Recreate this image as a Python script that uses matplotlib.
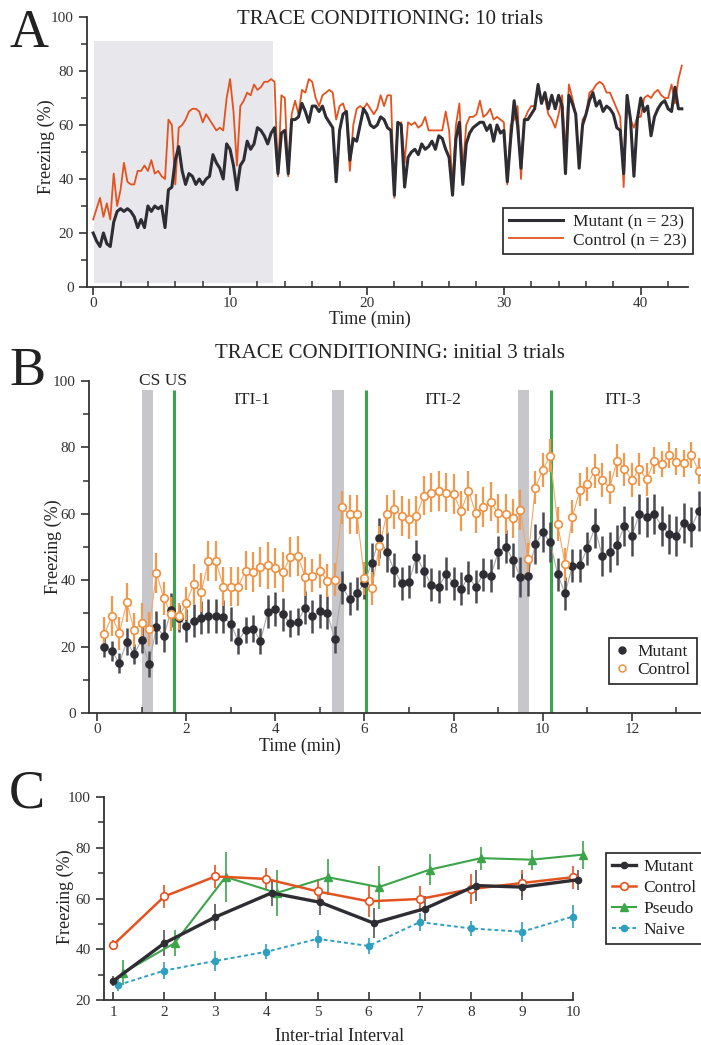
import matplotlib
matplotlib.use('Agg')
import matplotlib.pyplot as plt
import numpy as np
from matplotlib.ticker import MultipleLocator
from matplotlib.lines import Line2D

plt.rcParams['font.family'] = ['Liberation Serif', 'DejaVu Serif']
plt.rcParams['text.color'] = '#222222'
plt.rcParams['axes.labelcolor'] = '#222222'
plt.rcParams['xtick.color'] = '#333333'
plt.rcParams['ytick.color'] = '#333333'

# ---- panel A: 10 trials, sampled every 0.25 min ----
a_step = 0.25
a_mutant = [20, 17, 15, 20, 16, 15, 24, 28, 29, 28, 29, 28, 26, 22, 25, 22,
            30, 28, 30, 29, 30, 22, 36, 37, 47, 52, 43, 38, 42, 41, 38, 40,
            38, 40, 41, 49, 46, 44, 40, 53, 51, 45, 36, 45, 47, 54, 51, 53,
            59, 58, 56, 53, 57, 59, 42, 57, 58, 42, 62, 62, 63, 68, 65, 61,
            67, 67, 65, 67, 63, 61, 59, 39, 58, 64, 65, 47, 55, 54, 60, 66,
            64, 60, 59, 60, 63, 62, 59, 58, 34, 61, 60, 37, 48, 50, 51, 49,
            53, 51, 52, 54, 51, 56, 55, 51, 48, 34, 55, 61, 38, 53, 57, 59,
            60, 61, 61, 58, 60, 54, 60, 57, 58, 39, 55, 69, 60, 44, 62, 62,
            64, 66, 75, 68, 72, 66, 71, 66, 71, 67, 42, 71, 68, 64, 44, 60,
            64, 69, 72, 67, 69, 65, 67, 66, 64, 59, 58, 42, 71, 62, 41, 62,
            70, 65, 67, 56, 63, 66, 68, 69, 66, 65, 74, 66, 66]
a_control = [25, 29, 33, 26, 31, 25, 42, 30, 36, 46, 39, 38, 38, 43, 43, 45,
             43, 47, 42, 43, 41, 40, 62, 60, 38, 59, 60, 62, 65, 66, 66, 65,
             61, 64, 62, 60, 58, 59, 58, 70, 77, 65, 45, 67, 69, 72, 71, 75,
             73, 74, 76, 76, 77, 76, 41, 71, 70, 41, 64, 69, 64, 73, 72, 77,
             76, 70, 67, 71, 72, 73, 72, 62, 67, 68, 64, 43, 60, 66, 67, 66,
             68, 66, 64, 66, 71, 67, 71, 71, 33, 60, 61, 46, 61, 60, 61, 59,
             60, 63, 58, 58, 58, 58, 58, 65, 58, 38, 60, 68, 43, 60, 63, 63,
             64, 69, 63, 64, 66, 62, 63, 62, 61, 38, 60, 62, 67, 40, 62, 65,
             67, 67, 74, 69, 70, 64, 62, 59, 64, 71, 50, 75, 70, 64, 45, 62,
             64, 72, 73, 75, 76, 75, 72, 72, 69, 66, 63, 37, 70, 62, 59, 63,
             63, 70, 71, 70, 72, 73, 71, 70, 70, 75, 68, 77, 82]
a_time = np.arange(len(a_mutant)) * a_step
a_cs_period = (0.05, 13.1)

# ---- panel B: initial 3 trials, 10 s bins ----
b_mutant = [20.0, 18.7, 15.0, 21.5, 17.8, 22.0, 14.8, 25.8, 23.3, 31.0,
            28.5, 26.3, 27.8, 28.7, 29.2, 29.2, 29.0, 26.8, 21.7, 25.0,
            25.4, 21.7, 30.5, 31.3, 29.7, 27.0, 27.5, 31.7, 29.1, 30.7,
            30.2, 22.2, 37.9, 34.4, 36.0, 39.3, 45.3, 52.6, 48.5, 43.1,
            39.1, 39.6, 47.1, 42.9, 38.6, 38.1, 41.9, 39.1, 37.5, 40.8,
            38.1, 41.8, 41.4, 48.4, 50.1, 46.1, 40.9, 41.3, 50.8, 54.4,
            51.5, 41.8, 36.0, 44.4, 44.5, 49.6, 55.8, 47.3, 48.4, 50.7,
            56.4, 53.4, 59.9, 59.1, 59.9, 56.3, 53.9, 53.3, 57.3, 55.9, 60.9]
b_mutant_err = [3, 3, 3, 4, 3, 4, 4, 5, 5, 5, 4, 5, 5, 5, 5, 5, 5, 5, 4, 4,
                4, 4, 5, 5, 5, 4, 4, 5, 5, 5, 5, 4, 5, 5, 5, 5, 6, 6, 6, 5,
                5, 5, 5, 5, 5, 5, 5, 5, 5, 5, 5, 5, 5, 5, 5, 5, 6, 6, 6, 6,
                6, 5, 5, 5, 5, 5, 6, 6, 6, 6, 6, 6, 6, 6, 6, 6, 6, 6, 6, 6, 6]
b_control = [23.8, 29.2, 24.0, 33.3, 25.0, 27.0, 25.3, 42.1, 34.5, 29.8,
             29.1, 33.0, 38.8, 36.3, 45.8, 45.8, 38.1, 38.1, 38.1, 42.9,
             42.4, 44.1, 44.5, 43.8, 42.4, 46.9, 47.4, 41.1, 41.4, 42.8,
             39.8, 40.1, 61.9, 59.8, 59.8, 40.6, 37.6, 50.3, 59.8, 61.3,
             59.4, 58.4, 59.4, 65.5, 66.4, 66.9, 66.4, 65.9, 60.8, 66.9,
             60.1, 62.1, 63.7, 60.1, 59.9, 58.6, 61.1, 46.3, 67.9, 73.2,
             77.5, 56.9, 44.8, 59.1, 67.2, 69.0, 72.9, 70.2, 67.9, 76.0,
             73.4, 70.2, 73.4, 70.4, 76.0, 75.0, 77.7, 75.7, 75.2, 77.7, 72.9]
b_control_err = [5, 6, 5, 6, 5, 6, 5, 6, 5, 5, 4, 5, 6, 6, 6, 6, 6, 6, 6, 6,
                 6, 6, 7, 6, 6, 6, 6, 6, 5, 5, 5, 5, 5, 6, 6, 5, 5, 6, 6, 6,
                 6, 6, 6, 6, 6, 6, 6, 6, 6, 6, 6, 6, 6, 6, 6, 6, 6, 5, 5, 5,
                 5, 5, 5, 5, 5, 5, 5, 5, 5, 5, 5, 5, 5, 5, 4, 4, 4, 4, 4, 4, 4]
b_time = np.arange(1, len(b_mutant) + 1) / 6.0
b_cs = [(1.0, 1.25), (5.28, 5.54), (9.44, 9.69)]
b_us = [1.73, 6.03, 10.18]
b_iti = ['ITI-1', 'ITI-2', 'ITI-3']
b_iti_x = [3.47, 7.76, 11.8]

# ---- panel C: inter-trial intervals ----
c_mutant_x = [1.0, 2.0, 3.0, 4.1, 5.05, 6.1, 7.1, 8.1, 9.0, 10.1]
c_mutant = [27.5, 42.4, 52.7, 62.2, 58.5, 50.3, 56.0, 65.1, 64.5, 67.4]
c_mutant_err = [2, 5, 5, 5, 5, 6, 5, 6, 5, 4]
c_control_x = [1, 2, 3, 4, 5, 6, 7, 8, 9, 10]
c_control = [41.7, 60.8, 68.7, 67.7, 62.8, 58.9, 59.8, 63.7, 66.1, 68.4]
c_control_err = [2, 4.5, 4.5, 4.5, 5, 6, 5, 6, 5, 4.5]
c_pseudo_x = [1.2, 2.2, 3.2, 4.2, 5.2, 6.2, 7.2, 8.2, 9.2, 10.2]
c_pseudo = [30.8, 42.4, 68.5, 62.2, 68.4, 64.5, 71.4, 75.9, 75.3, 77.3]
c_pseudo_err = [5, 5, 10, 9, 7, 8.5, 6, 4.5, 4, 5.5]
c_naive_x = [1.1, 2, 3, 4, 5, 6, 7, 8, 9, 10]
c_naive = [25.9, 31.6, 35.4, 39.0, 44.1, 41.3, 50.7, 48.2, 46.9, 52.9]
c_naive_err = [2.5, 3.5, 4, 3, 3.5, 3, 3.5, 3, 4, 4.5]

BLACK = '#2d2d33'
ORANGE_RED = '#e4531f'
ORANGE = '#f0903e'
GREEN = '#3ca54a'
TEAL = '#2f9fc0'

W, H = 701, 1045
fig = plt.figure(figsize=(W / 100, H / 100), dpi=100)


def box(left, top, right, bottom):
    return [left / W, 1 - bottom / H, (right - left) / W, (bottom - top) / H]


def style(ax):
    for s in ['top', 'right']:
        ax.spines[s].set_visible(False)
    for s in ['left', 'bottom']:
        ax.spines[s].set_linewidth(1.3)
        ax.spines[s].set_color('#333333')
    ax.tick_params(axis='both', which='major', labelsize=11, length=6, width=1.2)
    ax.tick_params(axis='x', which='major', pad=1.5)
    ax.tick_params(axis='both', which='minor', length=4, width=1.1)
    ax.tick_params(axis='x', which='minor', direction='in')


def boxed_legend(ax, handles, labels, left, top, **kw):
    leg = ax.legend(handles, labels, loc='upper left',
                    bbox_to_anchor=(left / W, 1 - top / H),
                    bbox_transform=fig.transFigure, fancybox=False,
                    framealpha=1, edgecolor='#222222', borderaxespad=0,
                    borderpad=0.35, **kw)
    leg.get_frame().set_linewidth(1.2)
    return leg


# ================= A =================
axA = fig.add_axes(box(87, 17, 688, 287))
axA.axvspan(a_cs_period[0], a_cs_period[1], ymin=0.015, ymax=0.91,
            color='#e7e7ec', lw=0)
axA.plot(a_time, a_control, color=ORANGE_RED, lw=1.3)
axA.plot(a_time, a_mutant, color=BLACK, lw=2.2)
axA.set_xlim(-0.45, 43.45)
axA.set_ylim(0, 100)
axA.xaxis.set_major_locator(MultipleLocator(10))
axA.xaxis.set_minor_locator(MultipleLocator(2))
axA.yaxis.set_major_locator(MultipleLocator(20))
axA.yaxis.set_minor_locator(MultipleLocator(10))
style(axA)
axA.set_xlabel('Time (min)', fontsize=13)
axA.set_ylabel('Freezing (%)', fontsize=13)
axA.xaxis.set_label_coords(0.47, -0.088)
axA.yaxis.set_label_coords(-0.053, 0.52)
hA = [Line2D([], [], color=BLACK, lw=2.2), Line2D([], [], color=ORANGE_RED, lw=1.3)]
boxed_legend(axA, hA, ['Mutant (n = 23)', 'Control (n = 23)'], 503, 208,
             fontsize=12.5, handlelength=3.1, labelspacing=0.1, handletextpad=0.6)

# ================= B =================
axB = fig.add_axes(box(89, 381, 701, 713))
for x0, x1 in b_cs:
    axB.axvspan(x0, x1, ymin=0, ymax=0.973, color='#c6c6cb', lw=0)
axB.vlines(b_us, 0, 97.3, color=GREEN, lw=2.2)
axB.plot(b_time, b_mutant, color='#a8a8a8', lw=0.8)
axB.errorbar(b_time, b_mutant, yerr=b_mutant_err, fmt='o', ms=5.2,
             color=BLACK, ecolor='#4a4a50', elinewidth=1.8, capsize=0)
axB.plot(b_time, b_control, color='#f3a868', lw=0.8)
axB.errorbar(b_time, b_control, yerr=b_control_err, fmt='o', ms=5.5,
             mfc='white', mec=ORANGE, mew=1.2, ecolor='#f09a50',
             elinewidth=1.6, capsize=0)
axB.set_xlim(-0.18, 13.55)
axB.set_ylim(0, 100)
axB.xaxis.set_major_locator(MultipleLocator(2))
axB.xaxis.set_minor_locator(MultipleLocator(1))
axB.yaxis.set_major_locator(MultipleLocator(20))
axB.yaxis.set_minor_locator(MultipleLocator(10))
style(axB)
axB.text(1.48, 97.5, 'CS US', fontsize=12.5, ha='center', va='bottom')
for lbl, xx in zip(b_iti, b_iti_x):
    axB.text(xx, 94.3, lbl, fontsize=12.5, ha='center', va='center')
axB.set_xlabel('Time (min)', fontsize=13)
axB.set_ylabel('Freezing (%)', fontsize=13)
axB.xaxis.set_label_coords(0.345, -0.074)
axB.yaxis.set_label_coords(-0.044, 0.5)
hB = [Line2D([], [], ls='none', marker='o', ms=5, color=BLACK),
      Line2D([], [], ls='none', marker='o', ms=5, mfc='white', mec=ORANGE, mew=1.1)]
boxed_legend(axB, hB, ['Mutant', 'Control'], 609, 638,
             fontsize=12.5, handlelength=0.8, labelspacing=0.1, handletextpad=0.5)

# ================= C =================
axC = fig.add_axes(box(104, 797, 573, 1000))
axC.errorbar(c_naive_x, c_naive, yerr=c_naive_err, color=TEAL, ls=(0, (2, 1.5)),
             lw=1.4, marker='o', ms=4.5, elinewidth=1.2, capsize=0, clip_on=False)
axC.errorbar(c_pseudo_x, c_pseudo, yerr=c_pseudo_err, color=GREEN, lw=1.5,
             marker='^', ms=6, elinewidth=1.2, capsize=0, clip_on=False)
axC.errorbar(c_control_x, c_control, yerr=c_control_err, color=ORANGE_RED, lw=1.8,
             marker='o', ms=5.5, mfc='white', mew=1.2, elinewidth=1.2,
             capsize=0, clip_on=False)
axC.errorbar(c_mutant_x, c_mutant, yerr=c_mutant_err, color=BLACK, lw=2.4,
             marker='o', ms=4.5, ecolor='#555555', elinewidth=1.2, capsize=0,
             clip_on=False)
axC.set_xlim(0.82, 10)
axC.set_ylim(20, 100)
axC.set_xticks(range(1, 11))
axC.yaxis.set_major_locator(MultipleLocator(20))
axC.yaxis.set_minor_locator(MultipleLocator(10))
style(axC)
axC.tick_params(axis='x', which='major', direction='in', pad=4)
axC.set_xlabel('Inter-trial Interval', fontsize=13)
axC.set_ylabel('Freezing (%)', fontsize=13)
axC.xaxis.set_label_coords(0.503, -0.139)
axC.yaxis.set_label_coords(-0.064, 0.51)
hC = [Line2D([], [], color=BLACK, lw=2.4, marker='o', ms=4.5),
      Line2D([], [], color=ORANGE_RED, lw=1.8, marker='o', ms=5.5, mfc='white', mew=1.2),
      Line2D([], [], color=GREEN, lw=1.5, marker='^', ms=6),
      Line2D([], [], color=TEAL, lw=1.4, ls=(0, (2, 1.5)), marker='o', ms=4.5)]
boxed_legend(axC, hC, ['Mutant', 'Control', 'Pseudo', 'Naive'], 606, 853,
             fontsize=12.5, handlelength=1.4, labelspacing=0.28, handletextpad=0.4)

# titles and panel letters
fig.text(390 / W, 1 - 19 / H, 'TRACE CONDITIONING: 10 trials', fontsize=15,
         ha='center', va='center')
fig.text(390 / W, 1 - 354 / H, 'TRACE CONDITIONING: initial 3 trials', fontsize=15,
         ha='center', va='center')
for letter, base in [('A', 47), ('B', 385), ('C', 807)]:
    fig.text(9 / W, 1 - base / H, letter, fontsize=39, ha='left', va='baseline')

fig.savefig('out.png', dpi=100)
